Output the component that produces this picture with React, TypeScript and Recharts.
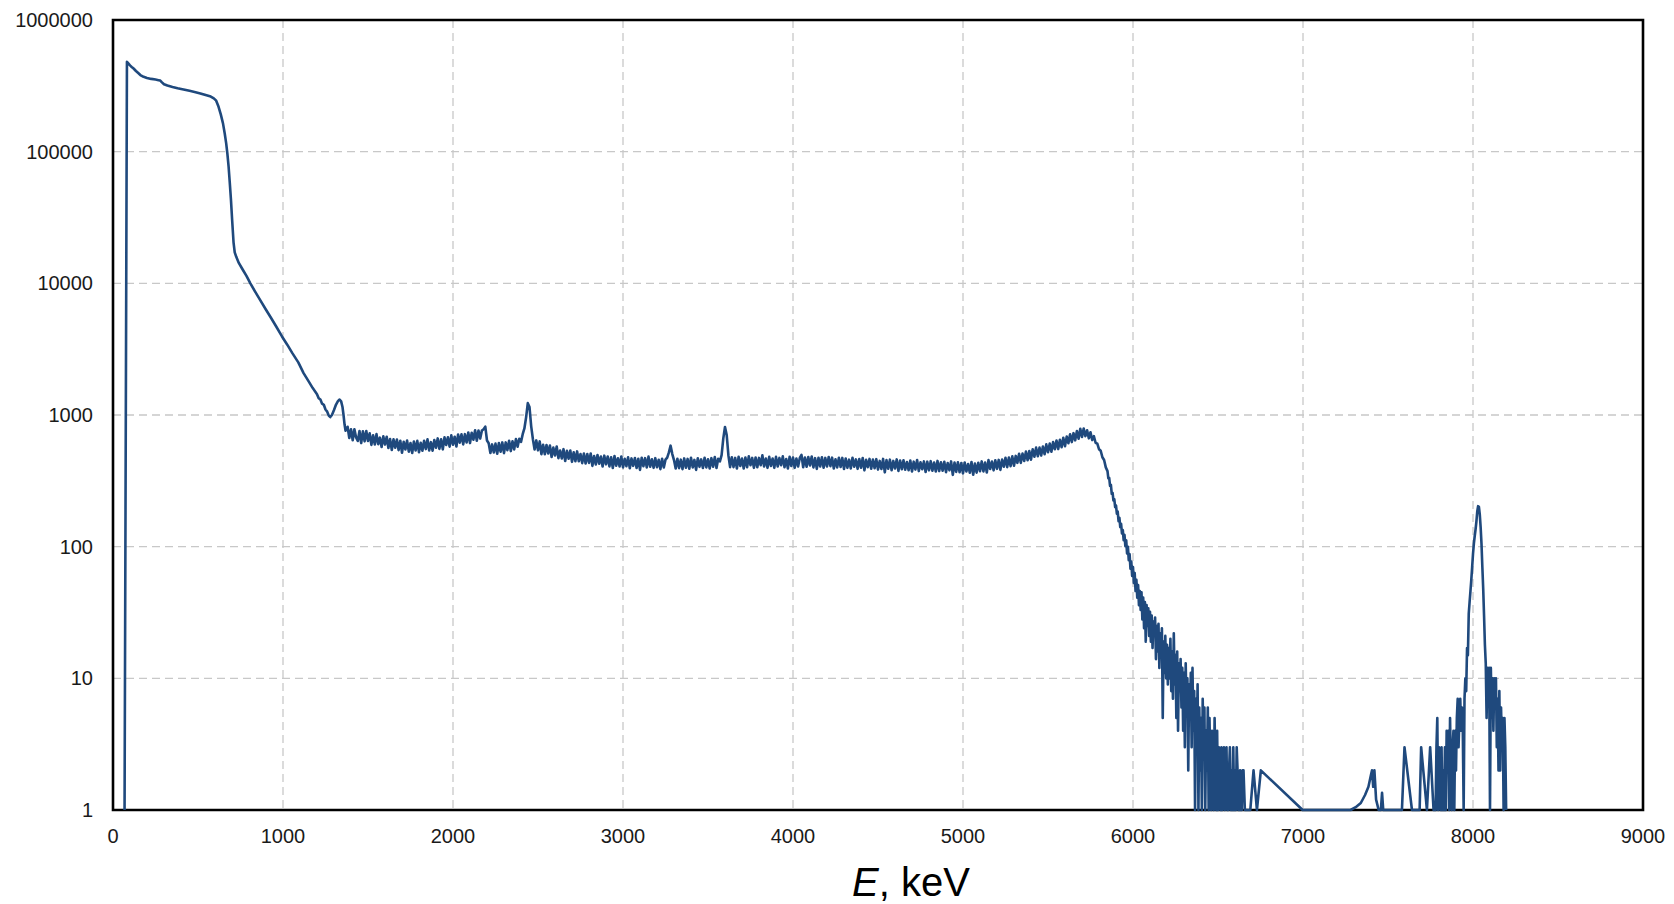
import React from 'react';
import { LineChart, Line, XAxis, YAxis, CartesianGrid, ReferenceArea } from 'recharts';

const FONT = '"Liberation Sans", Arial, Helvetica, sans-serif';

const xTicks = [0, 1000, 2000, 3000, 4000, 5000, 6000, 7000, 8000, 9000];
const yTicks = [1, 10, 100, 1000, 10000, 100000, 1000000];

// Low-energy part: sharp rise, Compton plateau, steep fall
const riseEnergies = [68, 82, 90, 100, 110, 121, 135, 150, 161, 180, 200, 225, 250, 268, 278, 288, 300, 320, 350, 380, 415, 450, 480, 514, 550, 575, 593, 607, 621, 634, 647, 657, 666, 673, 680, 687, 694, 701, 709, 716, 725, 740, 760, 785, 808, 835, 866, 900, 930, 960, 994, 1025, 1055, 1090, 1121, 1150, 1175, 1200, 1210, 1220, 1230, 1240, 1250, 1260, 1270, 1278, 1288, 1300, 1312, 1324, 1333, 1342, 1350, 1356, 1362, 1368];
const riseCounts = [1, 481000, 468000, 452000, 440000, 428000, 410000, 394000, 382000, 370000, 363000, 357000, 353000, 349000, 347000, 336000, 325000, 318000, 310000, 303000, 297000, 290000, 284000, 277000, 268000, 262000, 254000, 244000, 219000, 192000, 164000, 138000, 115000, 96000, 77000, 58000, 42800, 30000, 20500, 17200, 15900, 14300, 12900, 11400, 10000, 8700, 7450, 6300, 5450, 4700, 3950, 3420, 2950, 2510, 2080, 1810, 1600, 1440, 1340, 1310, 1220, 1195, 1100, 1060, 985, 965, 1000, 1090, 1200, 1280, 1310, 1270, 1150, 1000, 850, 760];

// Plateau region, 10 keV channels: [start energy, counts]
const plateauStep = 10;
const plateauRows: [number, number[]][] = [
  [1380, [814, 669, 779, 643, 780, 675, 635, 756, 612, 752]],
  [1480, [631, 756, 635, 725, 593, 701, 597, 716, 601, 673]],
  [1580, [572, 688, 596, 684, 562, 656, 542, 653, 565, 651]],
  [1680, [541, 638, 517, 626, 548, 639, 527, 613, 514, 629]],
  [1780, [537, 636, 521, 615, 535, 637, 551, 653, 537, 622]],
  [1880, [536, 646, 565, 664, 553, 655, 548, 676, 593, 678]],
  [1980, [575, 700, 595, 683, 577, 711, 617, 713, 598, 715]],
  [2080, [618, 737, 612, 733, 649, 765, 637, 762, 662, 763]],
  [2180, [780, 815, 640, 610, 515, 598, 520, 606, 508, 612]],
  [2280, [526, 619, 513, 619, 541, 638, 532, 631, 548, 656]],
  [2380, [575, 660, 625, 715, 790, 960, 1230, 1150, 820, 655]],
  [2480, [547, 641, 539, 630, 504, 594, 504, 592, 510, 586]],
  [2580, [480, 565, 493, 577, 470, 538, 467, 550, 447, 534]],
  [2680, [466, 537, 441, 521, 445, 529, 445, 505, 431, 510]],
  [2780, [428, 505, 433, 510, 411, 488, 421, 497, 427, 484]],
  [2880, [406, 491, 422, 484, 407, 477, 396, 488, 412, 469]],
  [2980, [406, 484, 400, 465, 408, 477, 394, 468, 411, 471]],
  [3080, [396, 465, 383, 474, 409, 470, 400, 483, 405, 461]],
  [3180, [397, 470, 401, 457, 388, 465, 400, 458, 475, 520]],
  [3280, [585, 505, 455, 392, 465, 395, 458, 388, 468, 398]],
  [3380, [464, 391, 473, 400, 456, 383, 469, 404, 460, 396]],
  [3480, [474, 400, 461, 392, 470, 405, 479, 396, 465, 445]],
  [3580, [495, 665, 810, 705, 495, 402, 478, 402, 472, 392]],
  [3680, [481, 410, 467, 392, 476, 401, 485, 415, 472, 397]],
  [3780, [476, 401, 472, 415, 494, 406, 467, 397, 481, 410]],
  [3880, [467, 397, 481, 406, 472, 415, 485, 401, 463, 392]],
  [3980, [481, 410, 476, 397, 467, 406, 472, 498, 401, 476]],
  [4080, [405, 480, 414, 484, 400, 470, 390, 474, 407, 477]],
  [4180, [398, 472, 406, 480, 409, 474, 392, 461, 400, 473]],
  [4280, [403, 472, 389, 467, 397, 458, 393, 473, 405, 460]],
  [4380, [390, 463, 398, 471, 380, 457, 402, 464, 391, 459]],
  [4480, [394, 462, 385, 448, 389, 464, 367, 454, 391, 458]],
  [4580, [381, 448, 393, 460, 376, 451, 388, 453, 384, 440]],
  [4680, [381, 451, 372, 442, 385, 455, 375, 437, 387, 444]],
  [4780, [369, 442, 380, 446, 377, 435, 372, 448, 375, 438]],
  [4880, [377, 441, 368, 432, 380, 444, 351, 435, 370, 437]],
  [4980, [368, 432, 360, 436, 372, 424, 364, 440, 352, 428]],
  [5080, [365, 434, 374, 444, 373, 436, 366, 454, 389, 443]],
  [5180, [380, 453, 390, 456, 383, 458, 405, 473, 402, 475]],
  [5280, [409, 485, 412, 489, 433, 508, 433, 509, 448, 527]],
  [5380, [454, 533, 458, 549, 482, 565, 486, 565, 492, 576]],
  [5480, [504, 598, 521, 606, 526, 624, 550, 639, 551, 648]],
  [5580, [569, 671, 580, 685, 611, 713, 623, 728, 642, 756]],
  [5680, [660, 785, 680, 790, 690, 765, 665, 740, 645, 690]],
  [5780, [615, 605, 550, 535, 478, 455, 400]],
];

// Falling edge and noisy tail, 5 keV channels
const tailStep = 5;
const tailRows: [number, number[]][] = [
  [5850, [375, 330, 333, 290, 295, 252, 256, 224, 230, 200]],
  [5900, [206, 178, 185, 156, 166, 141, 149, 126, 134, 112]],
  [5950, [123, 101, 112, 89, 100, 79, 88, 68, 77, 60]],
  [6000, [70, 53, 63, 46, 56, 41, 51, 36, 46, 33]],
  [6050, [45, 28, 41, 24, 38, 19, 36, 25, 34, 21]],
  [6100, [32, 19, 30, 17, 27, 21, 29, 14, 25, 16]],
  [6150, [26, 12, 22, 15, 24, 5, 19, 11, 21, 10]],
  [6200, [18, 9, 17, 10, 20, 8, 16, 7, 22, 9]],
  [6250, [15, 5, 16, 4, 13, 8, 14, 6, 12, 4]],
  [6300, [11, 3, 13, 6, 10, 2, 9, 5, 11, 3]],
  [6350, [12, 4, 8, 1, 7, 3, 9, 1, 6, 2]],
  [6400, [5, 1, 7, 3, 6, 1, 4, 2, 6, 1]],
  [6450, [5, 2, 1, 4, 3, 1, 5, 2, 1, 4]],
  [6500, [1, 3, 2, 1, 3, 1, 2, 3, 1, 2]],
  [6550, [3, 1, 1, 2, 3, 1, 2, 1, 3, 1]],
  [6600, [2, 1, 3, 2, 1, 1, 2, 1, 1, 2]],
];

// Sparse counts between the tail and the high-energy peak
const sparseEnergies = [6650, 6658, 6672, 6690, 6709, 6729, 6752, 6998, 7100, 7200, 7280, 7310, 7340, 7365, 7385, 7400, 7406, 7413, 7420, 7430, 7445, 7458, 7465, 7472, 7500, 7550, 7582, 7597, 7641, 7686, 7695, 7729, 7748, 7768];
const sparseCounts = [2, 1, 1, 1, 2, 1, 2, 1, 1, 1, 1, 1.05, 1.13, 1.3, 1.5, 1.85, 2, 1.5, 2, 1.2, 1, 1, 1.35, 1, 1, 1, 1, 3, 1, 1, 3, 1, 3, 1];

// High-energy peak, 5 keV channels
const peakStep = 5;
const peakRows: [number, number[]][] = [
  [7775, [1, 1, 3, 5, 1, 3, 2, 1, 3, 1]],
  [7825, [2, 1, 3, 1, 4, 2, 4, 1, 5, 2]],
  [7875, [1, 3, 4, 1, 4, 2, 5, 7, 3, 5]],
  [7925, [7, 4, 6, 4, 1, 7, 10, 8, 17, 15]],
  [7975, [31, 38, 46, 56, 70, 88, 105, 120, 135, 155]],
  [8025, [185, 203, 200, 175, 140, 105, 70, 48, 30, 18]],
  [8075, [13, 5, 12, 8, 12, 1, 12, 5, 10, 4]],
  [8125, [10, 6, 10, 3, 7, 2, 8, 2, 6, 3]],
  [8175, [5, 1, 5, 3, 1]],
];

type Pt = { e: number; c: number };

const expandRows = (rows: [number, number[]][], step: number): Pt[] => {
  const out: Pt[] = [];
  rows.forEach(([start, vals]) => vals.forEach((v, i) => out.push({ e: start + i * step, c: v })));
  return out;
};

const pairs = (es: number[], cs: number[]): Pt[] => es.map((e, i) => ({ e, c: cs[i] }));

const spectrum: Pt[] = [
  ...pairs(riseEnergies, riseCounts),
  ...expandRows(plateauRows, plateauStep),
  ...expandRows(tailRows, tailStep),
  ...pairs(sparseEnergies, sparseCounts),
  ...expandRows(peakRows, peakStep),
];

const AxisTitle = () => (
  <text x={911} y={896} textAnchor="middle" fontSize={40} fontFamily={FONT} fill="#000">
    <tspan fontStyle="italic">E</tspan>, keV
  </text>
);

export default function App() {
  return (
    <div style={{ position: 'absolute', left: 0, top: 0, width: 1674, height: 904, background: '#fff' }}>
      <LineChart
        width={1674}
        height={904}
        data={spectrum}
        margin={{ top: 20, right: 31, bottom: 0, left: 0 }}
      >
        <CartesianGrid stroke="#c8c8c8" strokeDasharray="8 5" strokeWidth={1.3} />
        <XAxis
          dataKey="e"
          type="number"
          domain={[0, 9000]}
          ticks={xTicks}
          interval={0}
          height={94}
          axisLine={false}
          tickLine={false}
          tickSize={6}
          tickMargin={13}
          tick={{ fontSize: 20, fill: '#1a1a1a', fontFamily: FONT }}
          label={<AxisTitle />}
        />
        <YAxis
          type="number"
          scale="log"
          domain={[1, 1000000]}
          ticks={yTicks}
          interval={0}
          width={113}
          axisLine={false}
          tickLine={false}
          tickSize={6}
          tickMargin={14}
          tick={{ fontSize: 20, fill: '#1a1a1a', fontFamily: FONT }}
        />
        <ReferenceArea x1={0} x2={9000} y1={1} y2={1000000} fill="none" stroke="#000" strokeWidth={2.6} />
        <Line
          type="linear"
          dataKey="c"
          stroke="#1f497d"
          strokeWidth={2.6}
          strokeLinejoin="round"
          dot={false}
          activeDot={false}
          isAnimationActive={false}
        />
      </LineChart>
    </div>
  );
}
